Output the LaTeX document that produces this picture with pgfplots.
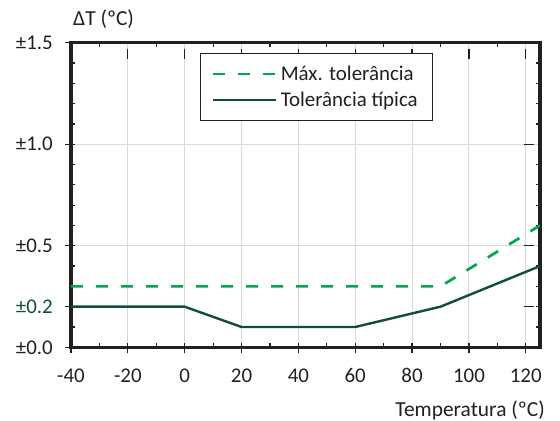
\documentclass[border=0pt]{standalone}
\usepackage{fontspec}
\setmainfont{Carlito}
\usepackage{pgfplots}
\pgfplotsset{compat=1.18}
\definecolor{dgreen}{HTML}{00A651}
\definecolor{dteal}{HTML}{0F4D3F}
\definecolor{axcol}{HTML}{231F20}
\definecolor{gridc}{HTML}{D9D9D9}
\begin{document}
\begin{tikzpicture}[font=\fontsize{21.5}{25}\selectfont]
\path[use as bounding box] (-71bp,-73.7bp) rectangle (489bp,347.3bp);
\begin{axis}[
  scale only axis,
  width=469bp, height=304.6bp,
  xmin=-40, xmax=125, ymin=0, ymax=1.5,
  /pgf/number format/assume math mode=true,
  axis line style={axcol, line width=3.2bp},
  xtick={-40,-20,0,20,40,60,80,100,120},
  xticklabels={-40,-20,0,20,40,60,80,100,120},
  ytick={0,0.5,1,1.5},
  yticklabels={±0.0,±0.5,±1.0,±1.5},
  extra y ticks={0.2},
  extra y tick labels={\textcolor{dteal}{±0.2}},
  extra y tick style={grid=none},
  minor x tick num=1,
  minor y tick num=4,
  tick align=inside,
  major tick length=10bp,
  minor tick length=4.5bp,
  major x tick style={yshift=-6bp},
  major y tick style={xshift=-6bp},
  tick style={axcol, line width=1.2bp},
  grid=major,
  major grid style={gridc, line width=1bp},
  minor grid style={draw=none},
  ticklabel style={text=axcol, font=\fontsize{21}{25}\selectfont},
  xticklabel style={inner sep=0pt, yshift=-21bp},
  yticklabel style={inner sep=0pt, xshift=-18bp},
  legend style={at={(rel axis cs:0.275,0.967)}, anchor=north west,
    draw=axcol, line width=1.2bp, inner xsep=11bp, inner ysep=9bp,
    row sep=3bp, text=axcol, font=\fontsize{21}{25}\selectfont,
    nodes={inner sep=3.5bp}},
  legend cell align=left,
  legend image code/.code={\draw[#1] (0bp,0bp) -- (63bp,0bp);},
]
\addplot[dgreen, line width=2.7bp, dash pattern=on 12bp off 13bp] coordinates {(-40,0.3) (90,0.3) (125,0.6)};
\addlegendentry{Máx. tolerância}
\addplot[dteal, line width=2.4bp] coordinates {(-40,0.2) (0,0.2) (20,0.1) (60,0.1) (90,0.2) (125,0.4)};
\addlegendentry{Tolerância típica}
\end{axis}
\node[anchor=base west, inner sep=0, text=axcol] at (2bp,322bp) {ΔT (ºC)};
\node[anchor=base east, inner sep=0, text=axcol] at (474bp,-69.4bp) {Temperatura (ºC)};
\end{tikzpicture}
\end{document}
